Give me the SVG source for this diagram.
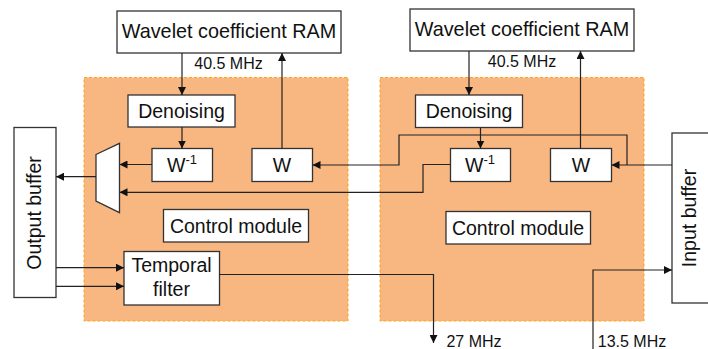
<svg xmlns="http://www.w3.org/2000/svg" width="708" height="349" viewBox="0 0 708 349">
<style>
.panel{fill:#F8B680;stroke:#FFA31A;stroke-width:1;stroke-dasharray:3,2}
.box{fill:#fff;stroke:#333;stroke-width:1.3}
.t{font-family:"Liberation Sans",Arial,sans-serif;fill:#111;text-anchor:middle}
.big{font-size:19.8px}
.mid{font-size:19.5px}
.sm{font-size:16px}
.ln{fill:none;stroke:#222;stroke-width:1.2}
</style>
<defs>
<marker id="ah" viewBox="0 0 10 10" refX="10" refY="5" markerWidth="8" markerHeight="8" markerUnits="userSpaceOnUse" orient="auto">
<path d="M0,0L10,5L0,10z" fill="#111"/>
</marker>
</defs>
<rect width="708" height="349" fill="#fff"/>
<g id="panel-left"><rect class="panel" x="84" y="77.5" width="264" height="243.5"/></g>
<g id="panel-right"><rect class="panel" x="380" y="77.5" width="264" height="243.5"/></g>

<g id="ram-left"><rect class="box" x="117" y="11" width="224" height="42"/><text class="t big" x="229" y="38">Wavelet coefficient RAM</text></g>
<g id="ram-right"><rect class="box" x="410" y="9" width="224" height="42"/><text class="t big" x="522" y="36">Wavelet coefficient RAM</text></g>
<g id="denoise-left"><rect class="box" x="128" y="95" width="107" height="32"/><text class="t mid" x="181.5" y="117.5">Denoising</text></g>
<g id="denoise-right"><rect class="box" x="415.5" y="95" width="107" height="32.5"/><text class="t mid" x="469" y="117.5">Denoising</text></g>
<g id="winv-left"><rect class="box" x="152" y="148.5" width="60.5" height="33"/><text class="t mid" x="182" y="172">W<tspan font-size="13" dy="-8">-1</tspan></text></g>
<g id="w-left"><rect class="box" x="252" y="148.5" width="60.5" height="33"/><text class="t mid" x="282" y="172">W</text></g>
<g id="winv-right"><rect class="box" x="450.5" y="148.5" width="60" height="33"/><text class="t mid" x="480" y="172">W<tspan font-size="13" dy="-8">-1</tspan></text></g>
<g id="w-right"><rect class="box" x="550.5" y="148.5" width="61" height="33"/><text class="t mid" x="581" y="172">W</text></g>
<g id="mux"><polygon class="box" points="96,154.5 119.5,143.3 119.5,212.7 96,201"/></g>
<g id="ctrl-left"><rect class="box" x="163.5" y="209.5" width="145" height="32.5"/><text class="t mid" x="236" y="232.5">Control module</text></g>
<g id="ctrl-right"><rect class="box" x="446" y="211.5" width="144.5" height="32.5"/><text class="t mid" x="518" y="234.5">Control module</text></g>
<g id="temporal"><rect class="box" x="124" y="251.5" width="95.5" height="53.5"/><text class="t mid" x="171.5" y="272">Temporal</text><text class="t mid" x="171.5" y="296">filter</text></g>
<g id="output-buffer"><rect class="box" x="14" y="127.5" width="42" height="170"/><text class="t mid" transform="translate(40.5,213) rotate(-90)">Output buffer</text></g>
<g id="input-buffer"><rect class="box" x="672" y="133" width="40" height="170"/><text class="t mid" transform="translate(696,218) rotate(-90)">Input buffer</text></g>

<g id="labels">
<text class="t sm" x="228.5" y="68.5">40.5 MHz</text>
<text class="t sm" x="522" y="67">40.5 MHz</text>
<text class="t sm" x="474" y="347">27 MHz</text>
<text class="t sm" x="632" y="347">13.5 MHz</text>
</g>

<g id="connectors">
<path class="ln" d="M182,53V95" marker-end="url(#ah)"/>
<path class="ln" d="M182,127V148.5" marker-end="url(#ah)"/>
<path class="ln" d="M282,148.5V53" marker-end="url(#ah)"/>
<path class="ln" d="M469,51V95" marker-end="url(#ah)"/>
<path class="ln" d="M480.5,127.5V148.5" marker-end="url(#ah)"/>
<path class="ln" d="M580.5,148.5V51" marker-end="url(#ah)"/>
<path class="ln" d="M672,165H611.5" marker-end="url(#ah)"/>
<path class="ln" d="M627,165V135H399V165H312.5" marker-end="url(#ah)"/>
<path class="ln" d="M450.5,164.5H423V192.3H119.5" marker-end="url(#ah)"/>
<path class="ln" d="M152,164.5H119.5" marker-end="url(#ah)"/>
<path class="ln" d="M96,176.7H56" marker-end="url(#ah)"/>
<path class="ln" d="M56,267.7H124" marker-end="url(#ah)"/>
<path class="ln" d="M56,286.3H124" marker-end="url(#ah)"/>
<path class="ln" d="M219.5,274.5H433.5V343" marker-end="url(#ah)"/>
<path class="ln" d="M593,349V270H672" marker-end="url(#ah)"/>
</g>
</svg>
